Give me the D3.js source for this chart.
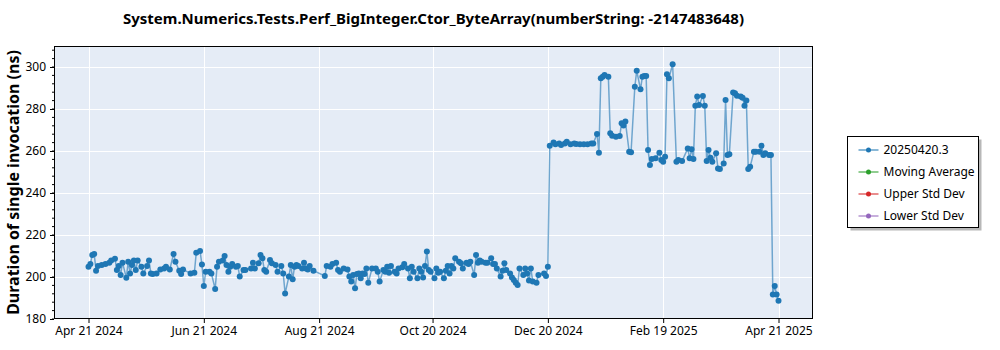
<!DOCTYPE html>
<html>
<head>
<meta charset="utf-8">
<script src="https://cdn.jsdelivr.net/npm/d3@7"></script>
<style>
  body { margin: 0; background: #fff; }
  text { font-family: "Noto Sans", "Open Sans", sans-serif; }
</style>
</head>
<body>
<div id="chart"></div>
<script>
// chart data
const chartTitle = "System.Numerics.Tests.Perf_BigInteger.Ctor_ByteArray(numberString: -2147483648)";
const yLabel = "Duration of single invocation (ns)";
const startDate = "2024-04-21";
// days after startDate for each run
const dayIndex = [
  0, 1, 2, 3, 4, 5, 7, 9, 11, 12, 14, 15, 16, 17, 18, 20, 21, 22, 23, 24,
  25, 26, 28, 29, 31, 32, 33, 34, 36, 38, 40, 41, 43, 45, 46, 48, 49, 50, 54, 56,
  57, 59, 60, 61, 62, 64, 65, 67, 68, 69, 71, 72, 73, 74, 75, 76, 78, 79, 80, 82,
  83, 86, 87, 88, 90, 91, 92, 93, 94, 96, 97, 99, 100, 102, 103, 104, 106, 107, 108, 109,
  110, 111, 113, 114, 115, 116, 117, 119, 125, 126, 128, 129, 131, 132, 133, 135, 137, 138, 139, 140,
  141, 142, 143, 144, 145, 146, 147, 148, 150, 152, 153, 154, 156, 157, 158, 159, 160, 162, 163, 164,
  166, 167, 169, 170, 171, 172, 174, 175, 176, 177, 178, 179, 180, 181, 183, 184, 185, 186, 188, 189,
  190, 191, 192, 193, 194, 196, 197, 198, 200, 201, 202, 204, 205, 206, 207, 208, 210, 211, 213, 214,
  215, 216, 218, 219, 220, 221, 223, 224, 225, 226, 227, 228, 230, 231, 232, 233, 234, 235, 237, 238,
  241, 242, 243, 244, 246, 247, 249, 250, 252, 253, 255, 257, 258, 260, 262, 264, 266, 267, 269, 270,
  271, 272, 273, 275, 276, 277, 279, 281, 282, 283, 284, 286, 287, 289, 290, 292, 293, 294, 295, 296,
  297, 298, 300, 302, 303, 304, 305, 306, 307, 309, 311, 312, 314, 317, 318, 319, 320, 321, 322, 323,
  325, 326, 327, 328, 329, 330, 332, 333, 334, 336, 337, 338, 339, 341, 342, 343, 345, 346, 347, 348,
  349, 350, 352, 353, 355, 356, 357, 358, 360, 361, 362, 363, 364, 365
];
// duration in ns
const durations = [
  204.9, 206.2, 210.5, 211.0, 203.0, 205.2, 205.7, 206.2, 206.8, 207.8, 208.7, 203.3, 205.2, 201.0, 206.8, 199.7, 207.3, 201.7, 205.7, 207.8,
  203.3, 207.8, 204.9, 201.7, 205.2, 207.8, 201.7, 201.4, 201.7, 203.6, 204.0, 204.9, 203.6, 211.0, 207.3, 203.0, 201.4, 203.6, 201.7, 202.0,
  211.6, 212.4, 205.9, 195.7, 202.5, 202.5, 201.7, 194.3, 204.9, 207.3, 207.8, 210.0, 205.7, 202.5, 204.9, 206.2, 204.9, 205.2, 200.2, 203.3,
  203.3, 204.1, 206.8, 204.1, 206.5, 210.5, 208.9, 203.3, 202.5, 208.1, 206.5, 205.7, 202.5, 205.2, 201.7, 192.2, 200.2, 205.7, 198.9, 204.9,
  205.7, 205.2, 204.1, 206.8, 204.1, 203.6, 205.2, 203.0, 200.5, 205.2, 204.9, 206.2, 206.8, 203.3, 202.5, 204.1, 203.6, 200.2, 197.8, 201.0,
  194.6, 201.4, 201.7, 199.4, 201.7, 201.4, 204.1, 197.3, 204.1, 204.1, 202.5, 197.8, 203.3, 202.5, 204.9, 202.0, 205.2, 202.5, 201.7, 204.1,
  204.6, 206.2, 204.1, 199.4, 204.9, 202.5, 199.4, 204.1, 202.5, 199.8, 205.2, 212.1, 203.3, 202.5, 199.4, 204.1, 202.0, 202.5, 199.4, 203.0,
  205.2, 201.7, 205.2, 204.1, 208.9, 207.3, 206.5, 204.1, 206.8, 206.2, 207.3, 201.0, 210.5, 206.8, 207.8, 207.3, 206.8, 206.8, 208.9, 206.2,
  206.2, 204.1, 200.2, 203.0, 206.5, 203.3, 201.7, 199.8, 198.6, 197.3, 196.2, 204.1, 201.0, 204.1, 201.7, 198.3, 204.1, 197.8, 197.3, 201.0,
  201.7, 200.5, 204.9, 262.5, 264.1, 263.2, 263.6, 262.8, 263.6, 264.4, 263.2, 263.6, 263.3, 263.2, 263.2, 263.2, 263.6, 263.6, 268.1, 259.2,
  294.6, 295.4, 296.2, 295.4, 268.4, 267.3, 266.8, 267.1, 273.2, 272.1, 274.0, 259.7, 259.4, 290.6, 298.2, 289.4, 295.4, 295.7, 295.7, 260.5,
  253.3, 256.2, 256.5, 259.2, 255.7, 254.9, 257.3, 296.5, 294.6, 301.3, 254.9, 255.7, 255.2, 261.2, 256.5, 260.8, 256.2, 281.6, 285.9, 281.9,
  286.2, 281.6, 255.2, 260.5, 256.8, 254.9, 258.9, 251.7, 251.4, 254.1, 284.3, 258.1, 258.4, 287.9, 287.5, 286.3, 285.9, 285.4, 281.6, 284.0,
  251.4, 252.5, 259.7, 259.7, 259.7, 262.5, 258.1, 258.9, 258.1, 258.1, 191.7, 195.7, 191.7, 188.7
];
const tickDates = ["2024-04-21", "2024-06-21", "2024-08-21", "2024-10-20", "2024-12-20", "2025-02-19", "2025-04-21"];
const yTicks = [180, 200, 220, 240, 260, 280, 300];
const yRange = [180, 310];
const legendNames = ["20250420.3", "Moving Average", "Upper Std Dev", "Lower Std Dev"];
const legendColors = ["#1f77b4", "#2ca02c", "#d62728", "#9467bd"];

const width = 1000, height = 350;
const margin = { top: 46, right: 187, bottom: 31, left: 54 };
const plotW = width - margin.left - margin.right;
const plotH = height - margin.top - margin.bottom;

const parse = d3.timeParse("%Y-%m-%d");
const base = parse(startDate);
const points = dayIndex.map((d, i) => ({ date: d3.timeDay.offset(base, d), value: durations[i] }));

const svg = d3.select("#chart").append("svg")
    .attr("width", width)
    .attr("height", height);

// x domain padded by 5% on both sides, like the source plot
const ext = d3.extent(points, d => d.date);
const pad = (ext[1] - ext[0]) * 0.05;
const x = d3.scaleTime()
    .domain([new Date(+ext[0] - pad), new Date(+ext[1] + pad)])
    .range([margin.left, margin.left + plotW]);
const y = d3.scaleLinear()
    .domain(yRange)
    .range([margin.top + plotH, margin.top]);

// plot background
svg.append("rect")
    .attr("x", margin.left).attr("y", margin.top)
    .attr("width", plotW).attr("height", plotH)
    .attr("fill", "#e5ecf6");

// grid lines
const grid = svg.append("g").attr("stroke", "#fff").attr("stroke-width", 1);
grid.selectAll(".gx")
    .data(tickDates.map(parse))
    .enter().append("line")
    .attr("x1", d => Math.round(x(d)) + 0.5).attr("x2", d => Math.round(x(d)) + 0.5)
    .attr("y1", margin.top).attr("y2", margin.top + plotH);
grid.selectAll(".gy")
    .data(yTicks)
    .enter().append("line")
    .attr("y1", d => Math.round(y(d)) + 0.5).attr("y2", d => Math.round(y(d)) + 0.5)
    .attr("x1", margin.left).attr("x2", margin.left + plotW);

// series
const line = d3.line().x(d => x(d.date)).y(d => y(d.value));
svg.append("path")
    .datum(points)
    .attr("d", line)
    .attr("fill", "none")
    .attr("stroke", "#1f77b4")
    .attr("stroke-opacity", 0.6)
    .attr("stroke-width", 1.5);
svg.append("g").selectAll("circle")
    .data(points)
    .enter().append("circle")
    .attr("cx", d => x(d.date))
    .attr("cy", d => y(d.value))
    .attr("r", 3)
    .attr("fill", "#1f77b4");

// axes
const xAxis = svg.append("g")
    .attr("transform", `translate(0,${margin.top + plotH})`)
    .call(d3.axisBottom(x)
        .tickValues(tickDates.map(parse))
        .tickFormat(d3.timeFormat("%b %d %Y"))
        .tickSize(4).tickPadding(3));
const yAxis = svg.append("g")
    .attr("transform", `translate(${margin.left},0)`)
    .call(d3.axisLeft(y).tickValues(yTicks).tickSize(4).tickPadding(4));
// minor ticks on y
yAxis.selectAll(".minor")
    .data(d3.range(yRange[0], yRange[1] + 0.1, 4))
    .enter().append("line")
    .attr("x1", -2).attr("x2", 0)
    .attr("y1", d => y(d)).attr("y2", d => y(d))
    .attr("stroke", "#000");
[xAxis, yAxis].forEach(a => {
    a.select(".domain").remove();
    a.selectAll("text").attr("font-size", 12).attr("fill", "#000")
        .attr("font-family", "'Noto Sans', sans-serif");
});

// plot frame
svg.append("rect")
    .attr("x", margin.left + 0.5).attr("y", margin.top + 0.5)
    .attr("width", plotW - 1).attr("height", plotH - 1)
    .attr("fill", "none").attr("stroke", "#000");

// title and axis label
svg.append("text")
    .attr("x", margin.left + plotW / 2).attr("y", 24)
    .attr("text-anchor", "middle")
    .attr("font-size", 15).attr("font-weight", "bold")
    .text(chartTitle);
svg.append("text")
    .attr("transform", `translate(19,${margin.top + plotH / 2}) rotate(-90)`)
    .attr("text-anchor", "middle")
    .attr("font-size", 16).attr("font-weight", "bold")
    .text(yLabel);

// legend
const lg = svg.append("g").attr("transform", "translate(847.5,136.5)");
lg.append("rect").attr("x", 3).attr("y", 3).attr("width", 131).attr("height", 91).attr("fill", "#888").attr("opacity", 0.6);
lg.append("rect").attr("width", 131).attr("height", 91).attr("fill", "#fff").attr("stroke", "#000");
const item = lg.selectAll(".item")
    .data(legendNames)
    .enter().append("g")
    .attr("transform", (d, i) => `translate(0,${13.5 + i * 22})`);
item.append("line")
    .attr("x1", 11).attr("x2", 31)
    .attr("stroke", (d, i) => legendColors[i])
    .attr("stroke-opacity", 0.7).attr("stroke-width", 1.5);
item.append("circle")
    .attr("cx", 21).attr("r", 2.5)
    .attr("fill", (d, i) => legendColors[i]);
item.append("text")
    .attr("x", 36).attr("dy", "0.35em")
    .attr("font-size", 12)
    .text(d => d);
</script>
</body>
</html>
